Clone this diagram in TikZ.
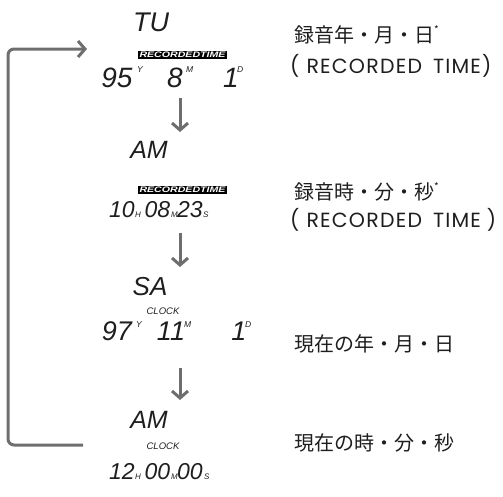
\documentclass[tikz,border=0pt]{standalone}
\usepackage{fontspec}
\usepackage{graphicx}
\usetikzlibrary{arrows.meta}
\newfontfamily\jpfont{Noto Sans CJK JP}
\newfontfamily\latfont{Poppins}[LetterSpace=6]
\newfontfamily\segfont{Liberation Sans}
\newfontfamily\lblfont{Liberation Sans}
\definecolor{arrowgray}{HTML}{6E6E6E}
\definecolor{ink}{HTML}{1E1E1E}
\tikzset{
  seg/.style={font=\segfont\itshape\fontsize{#1}{#1}\selectfont, text=ink, inner sep=0pt, anchor=base},
  tagtxt/.style={font=\lblfont\itshape\fontsize{8.5}{8.5}\selectfont, text=ink, inner sep=0pt},
  subtxt/.style={font=\lblfont\itshape\fontsize{8}{8}\selectfont, text=ink, inner sep=0pt, anchor=base west},
  clocktxt/.style={font=\lblfont\itshape\fontsize{9.5}{10}\selectfont, text=ink, inner sep=0pt},
  recbox/.style={fill=black, text=white, inner sep=0pt, minimum width=89pt, minimum height=8pt,
    font=\lblfont\bfseries\itshape},
  jptxt/.style={font=\jpfont\fontsize{20}{20}\selectfont, anchor=west, inner sep=0pt, text=ink},
  lattxt/.style={font=\latfont\fontsize{20.5}{22}\selectfont, anchor=west, inner sep=0pt, text=ink},
  flow/.style={draw=arrowgray, line width=3pt, -{Straight Barb[length=7pt, width=16pt]}},
}
\newcommand\rectag{\resizebox{86pt}{5.6pt}{RECORDEDTIME}}
\newcommand\astx{\raisebox{0.45em}{\fontsize{10}{10}\selectfont *}}
\begin{document}
\begin{tikzpicture}[x=1pt,y=-1pt]
\useasboundingbox (0,0) rectangle (503,496);

% first block
\node[seg=27] (tu) at (151,31) {TU};
\node[recbox] (rec1) at (182.5,55) {\rectag};
\node[seg=28] (y95) at (117,87) {95};
\node[tagtxt, anchor=north west] (ty1) at (137,66) {Y};
\node[seg=28] (m8) at (175,87) {8};
\node[tagtxt, anchor=north west] (tm1) at (186,66) {M};
\node[seg=28] (d1) at (231,87) {1};
\node[tagtxt, anchor=north west] (td1) at (237,66) {D};

% second block
\node[seg=25] (am1) at (149,158) {AM};
\node[recbox] (rec2) at (182.5,189.5) {\rectag};
\node[seg=23] (h10) at (122,217) {10};
\node[subtxt] (th1) at (135,217) {H};
\node[seg=23] (mi08) at (157.5,217) {08};
\node[subtxt] (tmi1) at (171,217) {M};
\node[seg=23] (s23) at (190,217) {23};
\node[subtxt] (ts1) at (203,217) {S};

% third block
\node[seg=26] (sa) at (150,295) {SA};
\node[clocktxt] (clk1) at (163,311) {CLOCK};
\node[seg=27] (y97) at (117,340) {97};
\node[tagtxt, anchor=north west] (ty2) at (136,321) {Y};
\node[seg=27] (m11) at (171,340) {11};
\node[tagtxt, anchor=north west] (tm2) at (184,321) {M};
\node[seg=27] (d1b) at (239,340) {1};
\node[tagtxt, anchor=north west] (td2) at (245,321) {D};

% fourth block
\node[seg=25] (am2) at (149,428) {AM};
\node[clocktxt] (clk2) at (163,446) {CLOCK};
\node[seg=23] (h12) at (122,479) {12};
\node[subtxt] (th2) at (135,479) {H};
\node[seg=23] (mi00) at (157.5,479) {00};
\node[subtxt] (tmi2) at (171,479) {M};
\node[seg=23] (s00) at (190,479) {00};
\node[subtxt] (ts2) at (204,479) {S};

% right texts
\node[jptxt] (j1) at (294,35) {録音年・月・日\astx};
\node[lattxt] (l1) at (290,66) {(\hspace{7pt}RECORDED\hspace{11pt}TIME)};
\node[jptxt] (j2) at (294,192) {録音時・分・秒\astx};
\node[lattxt] (l2) at (290,220) {(\hspace{7pt}RECORDED\hspace{11pt}TIME\hspace{6pt})};
\node[jptxt] (j3) at (294,344) {現在の年・月・日};
\node[jptxt] (j4) at (294,443) {現在の時・分・秒};

% arrows
\coordinate (a1s) at (180,98);
\coordinate (a1e) at (180,132);
\coordinate (a2s) at (180,233);
\coordinate (a2e) at (180,267);
\coordinate (a3s) at (180,368);
\coordinate (a3e) at (180,400);
\draw[flow] (a1s) -- (a1e);
\draw[flow] (a2s) -- (a2e);
\draw[flow] (a3s) -- (a3e);

% loop back
\coordinate (ls) at (83,445);
\coordinate (le) at (87,49);
\draw[flow, rounded corners=6pt] (ls) -- (8,445) -- (8,49) -- (le);
\end{tikzpicture}
\end{document}
